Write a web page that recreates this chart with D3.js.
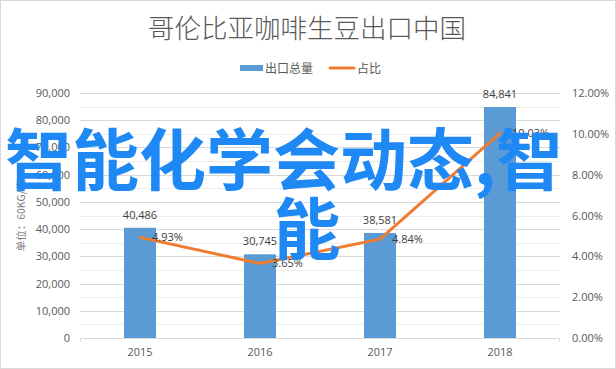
<!DOCTYPE html>
<html>
<head>
<meta charset="utf-8">
<script src="https://cdn.jsdelivr.net/npm/d3@7"></script>
<style>
  body { margin: 0; background: #fff; }
  text { font-family: "Noto Sans CJK SC", "Noto Sans", sans-serif; }
</style>
</head>
<body>
<div id="chart"></div>
<script>
// Données
var years = ["2015", "2016", "2017", "2018"];
var exports = [40486, 30745, 38581, 84841];
var shares = [4.93, 3.65, 4.84, 10.03];
var leftTicks = [0, 10000, 20000, 30000, 40000, 50000, 60000, 70000, 80000, 90000];
var rightTicks = [0, 2, 4, 6, 8, 10, 12];

var W = 616, H = 369;
var margin = {top: 93, right: 56, bottom: 31, left: 80};
var width = W - margin.left - margin.right,
    height = H - margin.top - margin.bottom;

var svg = d3.select("#chart").append("svg")
    .attr("width", W).attr("height", H);

// cadre
svg.append("rect")
    .attr("x", 0.5).attr("y", 0.5)
    .attr("width", W - 1).attr("height", H - 1)
    .attr("fill", "#fff").attr("stroke", "#d9d9d9");

// Titre
svg.append("text")
    .attr("x", 307).attr("y", 38)
    .attr("text-anchor", "middle")
    .style("font-size", "26.5px")
    .style("font-weight", 300)
    .attr("fill", "#595959")
    .text("哥伦比亚咖啡生豆出口中国");

// Légende
var leg = svg.append("g");
leg.append("rect").attr("x", 240).attr("y", 65).attr("width", 23).attr("height", 6).attr("fill", "#5b9bd5");
leg.append("text").attr("x", 265).attr("y", 72.5).style("font-size", "12px").attr("fill", "#595959").text("出口总量");
leg.append("line").attr("x1", 330).attr("x2", 354).attr("y1", 68).attr("y2", 68)
    .attr("stroke", "#ed7d31").attr("stroke-width", 3).attr("stroke-linecap", "round");
leg.append("text").attr("x", 357).attr("y", 72.5).style("font-size", "12px").attr("fill", "#595959").text("占比");

var g = svg.append("g").attr("transform", "translate(" + margin.left + "," + margin.top + ")");

// Echelles
var x = d3.scaleBand().domain(years).range([0, width]);
var y = d3.scaleLinear().domain([0, 90000]).range([height, 0]);
var y2 = d3.scaleLinear().domain([0, 12]).range([height, 0]);

// grille (majeure + mineure)
var minor = d3.range(5000, 90000, 10000);
g.selectAll(".minor").data(minor).enter().append("line")
    .attr("x1", 0).attr("x2", width)
    .attr("y1", function (d) { return Math.round(y(d)) + 0.5; })
    .attr("y2", function (d) { return Math.round(y(d)) + 0.5; })
    .attr("stroke", "#ececec");
g.selectAll(".major").data(leftTicks.slice(1)).enter().append("line")
    .attr("x1", 0).attr("x2", width)
    .attr("y1", function (d) { return Math.round(y(d)) + 0.5; })
    .attr("y2", function (d) { return Math.round(y(d)) + 0.5; })
    .attr("stroke", "#d9d9d9");

// Axe gauche
var axL = g.append("g")
    .call(d3.axisLeft(y).tickValues(leftTicks).tickSize(0).tickPadding(10).tickFormat(d3.format(",")));
axL.select(".domain").remove();
axL.selectAll("text").style("font-size", "11px").attr("fill", "#595959")
    .style("font-family", "'Open Sans', 'Noto Sans', sans-serif");

// Axe droit
var axR = g.append("g").attr("transform", "translate(" + width + ",0)")
    .call(d3.axisRight(y2).tickValues(rightTicks).tickSize(0).tickPadding(12)
        .tickFormat(function (d) { return d3.format(".2f")(d) + "%"; }));
axR.select(".domain").remove();
axR.selectAll("text").style("font-size", "11px").attr("fill", "#595959")
    .style("font-family", "'Open Sans', 'Noto Sans', sans-serif");

// Axe X
var axX = g.append("g").attr("transform", "translate(0," + height + ")")
    .call(d3.axisBottom(x).tickSize(0).tickPadding(10));
axX.select(".domain").attr("stroke", "#d9d9d9").attr("d", "M0.5,4V0.5H" + (width - 0.5) + "V4");
axX.selectAll("text").style("font-size", "11px").attr("fill", "#595959")
    .style("font-family", "'Open Sans', 'Noto Sans', sans-serif");

// Titre axe Y
svg.append("text")
    .attr("transform", "translate(25," + (margin.top + height / 2) + ") rotate(-90)")
    .attr("text-anchor", "middle")
    .style("font-size", "10.5px")
    .attr("fill", "#7f7f7f")
    .text("单位：60KG/袋");

// Barres
var bw = 32;
g.selectAll(".bar").data(exports).enter().append("rect")
    .attr("x", function (d, i) { return x(years[i]) + x.bandwidth() / 2 - bw / 2; })
    .attr("y", function (d) { return y(d); })
    .attr("width", bw)
    .attr("height", function (d) { return height - y(d); })
    .attr("fill", "#5b9bd5");

g.selectAll(".blab").data(exports).enter().append("text")
    .attr("x", function (d, i) { return x(years[i]) + x.bandwidth() / 2; })
    .attr("y", function (d) { return y(d) - 9; })
    .attr("text-anchor", "middle")
    .style("font-size", "11px")
    .style("font-family", "'Open Sans', 'Noto Sans', sans-serif")
    .attr("fill", "#404040")
    .text(function (d) { return d3.format(",")(d); });

// Ligne
var line = d3.line()
    .x(function (d, i) { return x(years[i]) + x.bandwidth() / 2; })
    .y(function (d) { return y2(d); });
g.append("path").datum(shares)
    .attr("d", line)
    .attr("fill", "none")
    .attr("stroke", "#ed7d31")
    .attr("stroke-width", 3)
    .attr("stroke-linecap", "round");

g.selectAll(".llab").data(shares).enter().append("text")
    .attr("x", function (d, i) { return x(years[i]) + x.bandwidth() / 2 + 12; })
    .attr("y", function (d) { return y2(d) + 4; })
    .style("font-size", "11px")
    .style("font-family", "'Open Sans', 'Noto Sans', sans-serif")
    .attr("fill", "#404040")
    .text(function (d) { return d3.format(".2f")(d) + "%"; });

// Texte superposé
var ov = svg.append("text")
    .attr("text-anchor", "middle")
    .style("font-size", "67px")
    .style("font-weight", "bold")
    .attr("fill", "#1e88f5");
ov.append("tspan").attr("x", 284).attr("y", 185).text("智能化学会动态,智");
ov.append("tspan").attr("x", 307).attr("y", 254).text("能");
</script>
</body>
</html>
